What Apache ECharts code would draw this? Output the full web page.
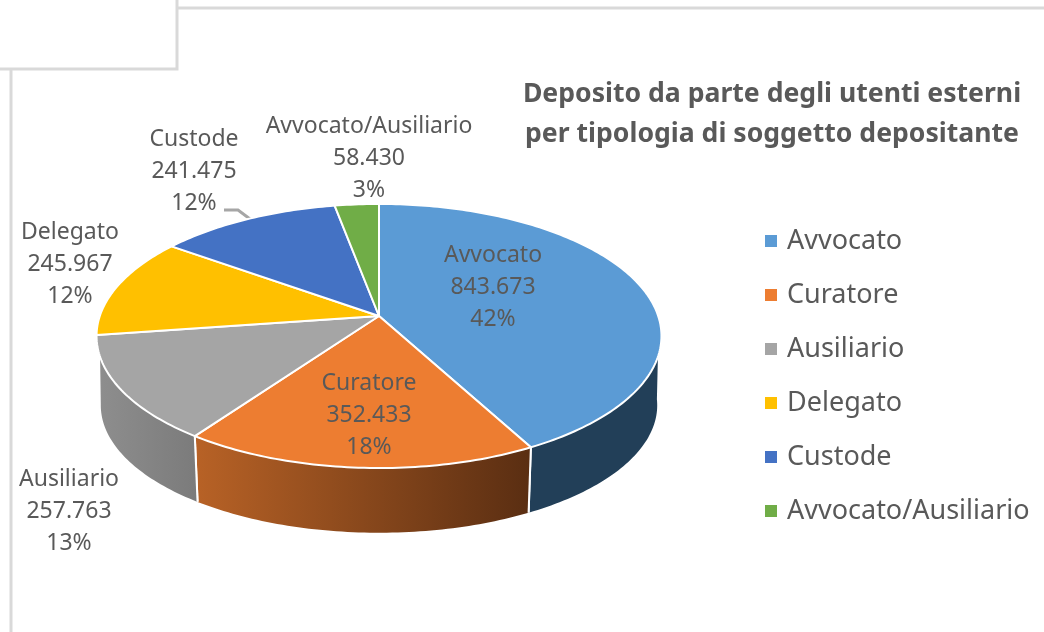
<!DOCTYPE html>
<html>
<head>
<meta charset="utf-8">
<style>
  html, body { margin: 0; padding: 0; background: #fff; }
  #chart { width: 1044px; height: 632px; }
</style>
<script src="https://cdn.jsdelivr.net/npm/echarts@6/dist/echarts.min.js"></script>
</head>
<body>
<div id="chart"></div>
<script>
const categories = ['Avvocato', 'Curatore', 'Ausiliario', 'Delegato', 'Custode', 'Avvocato/Ausiliario']
const values = [843673, 352433, 257763, 245967, 241475, 58430]
const colors = ['#5b9bd5', '#ed7d31', '#a5a5a5', '#ffc000', '#4472c4', '#70ad47']

// label centres
const labelPos = [[493, 287], [369, 415], [69, 511], [70, 264], [194, 171], [369, 158]]

const FONT = '"Noto Sans", sans-serif'
const total = values.reduce((a, b) => a + b, 0)

// tilted disc seen in perspective, apex is not the centre of the ellipse
const apex = [379, 316]
const upperPlane = { cy: 316, rx: 279.2, ry: 129 }
const lowerPlane = { cy: 386, rx: 275, ry: 124.5 }
const persp = 0.1515

const project = (deg, plane) => {
  const a = (deg * Math.PI) / 180
  const w = 1 + persp * Math.cos(a)
  return [apex[0] + (plane.rx * Math.sin(a)) / w, plane.cy - (plane.ry * Math.cos(a)) / w]
}

const rim = (from, to, plane) => {
  const pts = []
  const n = Math.max(2, Math.ceil(Math.abs(to - from)))
  for (let i = 0; i <= n; i++) pts.push(project(from + ((to - from) * i) / n, plane))
  return pts
}

const startAngle = (index) =>
  (values.slice(0, index).reduce((a, b) => a + b, 0) / total) * 360

const fmt = (v) => String(v).replace(/\B(?=(\d{3})+$)/g, '.')

const wallFill = [
  '#223f58',
  { type: 'linear', global: true, x: 195, y: 0, x2: 530, y2: 0,
    colorStops: [{ offset: 0, color: '#b86226' }, { offset: 1, color: '#5a2e12' }] },
  { type: 'linear', global: true, x: 98, y: 0, x2: 197, y2: 0,
    colorStops: [{ offset: 0, color: '#8e8e8e' }, { offset: 1, color: '#7b7b7b' }] },
]

// the side wall leaves the top rim lower than it reaches the bottom rim
const WALL_LOWER = [96, 262]
const WALL_UPPER = [107.6, 252.4]

const renderSlice = (params, api) => {
  const i = params.seriesIndex
  const from = startAngle(i)
  const to = from + (api.value(0) / total) * 360
  const children = []

  if (wallFill[i]) {
    const upper = rim(Math.max(from, WALL_UPPER[0]), Math.min(to, WALL_UPPER[1]), upperPlane)
    const lower = rim(Math.min(to, WALL_LOWER[1]), Math.max(from, WALL_LOWER[0]), lowerPlane)
    children.push({
      type: 'polygon',
      shape: { points: upper.concat(lower) },
      style: { fill: wallFill[i] },
    })
    ;[from, to].forEach((t) => {
      if (t >= WALL_UPPER[0] && t < WALL_UPPER[1]) {
        const p = project(t, upperPlane)
        const q = project(t, lowerPlane)
        children.push({
          type: 'line',
          shape: { x1: p[0], y1: p[1], x2: q[0], y2: q[1] },
          style: { stroke: '#fff', lineWidth: 2 },
        })
      }
    })
  }

  children.push({
    type: 'polygon',
    shape: { points: [apex].concat(rim(from, to, upperPlane)) },
    style: { fill: colors[i], stroke: '#fff', lineWidth: 2, lineJoin: 'round' },
  })

  children.push({
    type: 'text',
    z2: 10,
    style: {
      x: labelPos[i][0],
      y: labelPos[i][1],
      text: categories[i] + '\n' + fmt(api.value(0)) + '\n' + Math.round((api.value(0) / total) * 100) + '%',
      align: 'center',
      verticalAlign: 'middle',
      lineHeight: 32,
      fontSize: 23,
      fontFamily: FONT,
      fill: '#595959',
    },
  })
  return { type: 'group', children }
}

const frameLine = (points, color) => ({
  type: 'polyline',
  shape: { points },
  style: { stroke: color, lineWidth: 3, fill: null },
  silent: true,
})

const chart = echarts.init(document.getElementById('chart'))
chart.setOption({
  animation: false,
  backgroundColor: '#fff',
  title: {
    text: 'Deposito da parte degli utenti esterni\nper tipologia di soggetto depositante',
    left: 767,
    top: 69,
    textAlign: 'center',
    textStyle: { fontFamily: FONT, fontSize: 26.6, fontWeight: 'bold', color: '#595959', lineHeight: 40 },
  },
  legend: {
    data: categories,
    orient: 'vertical',
    left: 760,
    top: 219,
    icon: 'rect',
    itemWidth: 12,
    itemHeight: 12,
    itemGap: 20,
    selectedMode: false,
    textStyle: { fontFamily: FONT, fontSize: 27, color: '#595959', lineHeight: 34, padding: [0, 0, 0, 5] },
  },
  graphic: [
    frameLine([[177, 0], [177, 69], [0, 69]], '#d9d9d9'),
    frameLine([[178, 8], [1044, 8]], '#d9d9d9'),
    frameLine([[11, 70], [11, 632]], '#d9d9d9'),
    frameLine([[224, 210], [238, 210], [250, 219]], '#a6a6a6'),
  ],
  series: categories.map((name, i) => ({
    name,
    type: 'custom',
    coordinateSystem: 'none',
    itemStyle: { color: colors[i] },
    data: [[values[i]]],
    renderItem: renderSlice,
  })),
})
</script>
</body>
</html>
